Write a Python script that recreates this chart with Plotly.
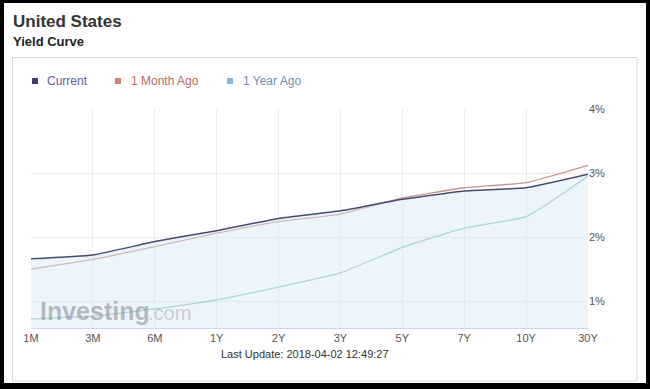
import plotly.graph_objects as go

categories = ["1M", "3M", "6M", "1Y", "2Y", "3Y", "5Y", "7Y", "10Y", "30Y"]
current = [1.66, 1.72, 1.93, 2.10, 2.29, 2.41, 2.59, 2.72, 2.77, 2.98]
month_ago = [1.50, 1.65, 1.85, 2.06, 2.24, 2.36, 2.61, 2.77, 2.85, 3.12]
year_ago = [0.72, 0.77, 0.88, 1.02, 1.22, 1.44, 1.84, 2.14, 2.32, 2.95]
y_ticks = [1, 2, 3, 4]
y_tick_labels = ["1%", "2%", "3%", "4%"]

W, H = 650, 389
L, R, T, B = 31, 62, 109, 61
PW, PH = W - L - R, H - T - B
FONT = "Arial, Liberation Sans, sans-serif"


def px(x):
    return (x - L) / PW


def py(y):
    return (H - B - y) / PH


fig = go.Figure()
fig.add_trace(go.Scatter(x=categories, y=year_ago, mode="lines",
                         line=dict(color="#8cc0c4", width=1.3, shape="spline", smoothing=0.4),
                         hoverinfo="skip"))
fig.add_trace(go.Scatter(x=categories, y=month_ago, mode="lines",
                         line=dict(color="#c8958b", width=1.3, shape="spline", smoothing=0.4),
                         hoverinfo="skip"))
fig.add_trace(go.Scatter(x=categories, y=current, mode="lines", fill="tozeroy",
                         fillcolor="rgba(215,232,248,0.45)",
                         line=dict(color="#464b70", width=1.5, shape="spline", smoothing=0.4),
                         hoverinfo="skip"))

shapes = [
    dict(type="rect", xref="paper", yref="paper", x0=px(4), x1=px(646), y0=py(383), y1=py(3),
         fillcolor="white", line=dict(width=0), layer="below"),
    dict(type="rect", xref="paper", yref="paper", x0=px(12.5), x1=px(637), y0=py(381), y1=py(57.5),
         fillcolor="rgba(0,0,0,0)", line=dict(color="#d8d8d8", width=1), layer="below"),
]
legend_items = [
    (32, 45, "Current", "#3c3f6e", "#5b5e98"),
    (115, 129, "1 Month Ago", "#d3826f", "#b86a5e"),
    (227, 241, "1 Year Ago", "#80b8e0", "#6f8fae"),
]
annotations = []
for sx, tx, name, sq, tc in legend_items:
    shapes.append(dict(type="rect", xref="paper", yref="paper", x0=px(sx), x1=px(sx + 6),
                       y0=py(84), y1=py(78), fillcolor=sq, line=dict(width=0)))
    annotations.append(dict(text=name, xref="paper", yref="paper", x=px(tx), y=py(81),
                            xanchor="left", yanchor="middle", showarrow=False,
                            font=dict(family=FONT, size=12, color=tc)))

annotations += [
    dict(text="<b>United States</b>", xref="paper", yref="paper", x=px(11), y=py(21),
         xanchor="left", yanchor="middle", showarrow=False,
         font=dict(family=FONT, size=17, color="#333333")),
    dict(text="<b>Yield Curve</b>", xref="paper", yref="paper", x=px(11), y=py(42),
         xanchor="left", yanchor="middle", showarrow=False,
         font=dict(family=FONT, size=13, color="#222222")),
    dict(text="Last Update: 2018-04-02 12:49:27", xref="paper", yref="paper", x=px(305), y=py(354),
         xanchor="center", yanchor="middle", showarrow=False,
         font=dict(family=FONT, size=11, color="#333333")),
    dict(text="<b>Investing</b>", xref="paper", yref="paper", x=px(38), y=py(311),
         xanchor="left", yanchor="middle", showarrow=False,
         font=dict(family=FONT, size=25, color="rgba(140,145,155,0.6)")),
    dict(text=".com", xref="paper", yref="paper", x=px(146), y=py(313),
         xanchor="left", yanchor="middle", showarrow=False,
         font=dict(family=FONT, size=20, color="rgba(165,170,180,0.55)")),
]

fig.update_layout(
    width=W, height=H, margin=dict(l=L, r=R, t=T, b=B),
    paper_bgcolor="black", plot_bgcolor="rgba(0,0,0,0)",
    showlegend=False, shapes=shapes, annotations=annotations,
    font=dict(family=FONT),
    xaxis=dict(type="category", categoryorder="array", categoryarray=categories,
               range=[0, 9], showgrid=True, gridcolor="#ebebeb", gridwidth=1,
               showline=True, linecolor="#ccd6eb", linewidth=1, zeroline=False,
               ticks="", tickfont=dict(size=11, color="#555555", family=FONT), fixedrange=True),
    yaxis=dict(side="right", range=[0.58, 4.0], tickvals=y_ticks, ticktext=y_tick_labels,
               showgrid=True, gridcolor="#ebebeb", gridwidth=1, zeroline=False, showline=False,
               ticks="", tickfont=dict(size=11, color="#555555", family=FONT), fixedrange=True),
)

fig.write_html("out.html", config={"displayModeBar": False},
               post_script="document.body.style.margin='0';document.body.style.overflow='hidden';")
